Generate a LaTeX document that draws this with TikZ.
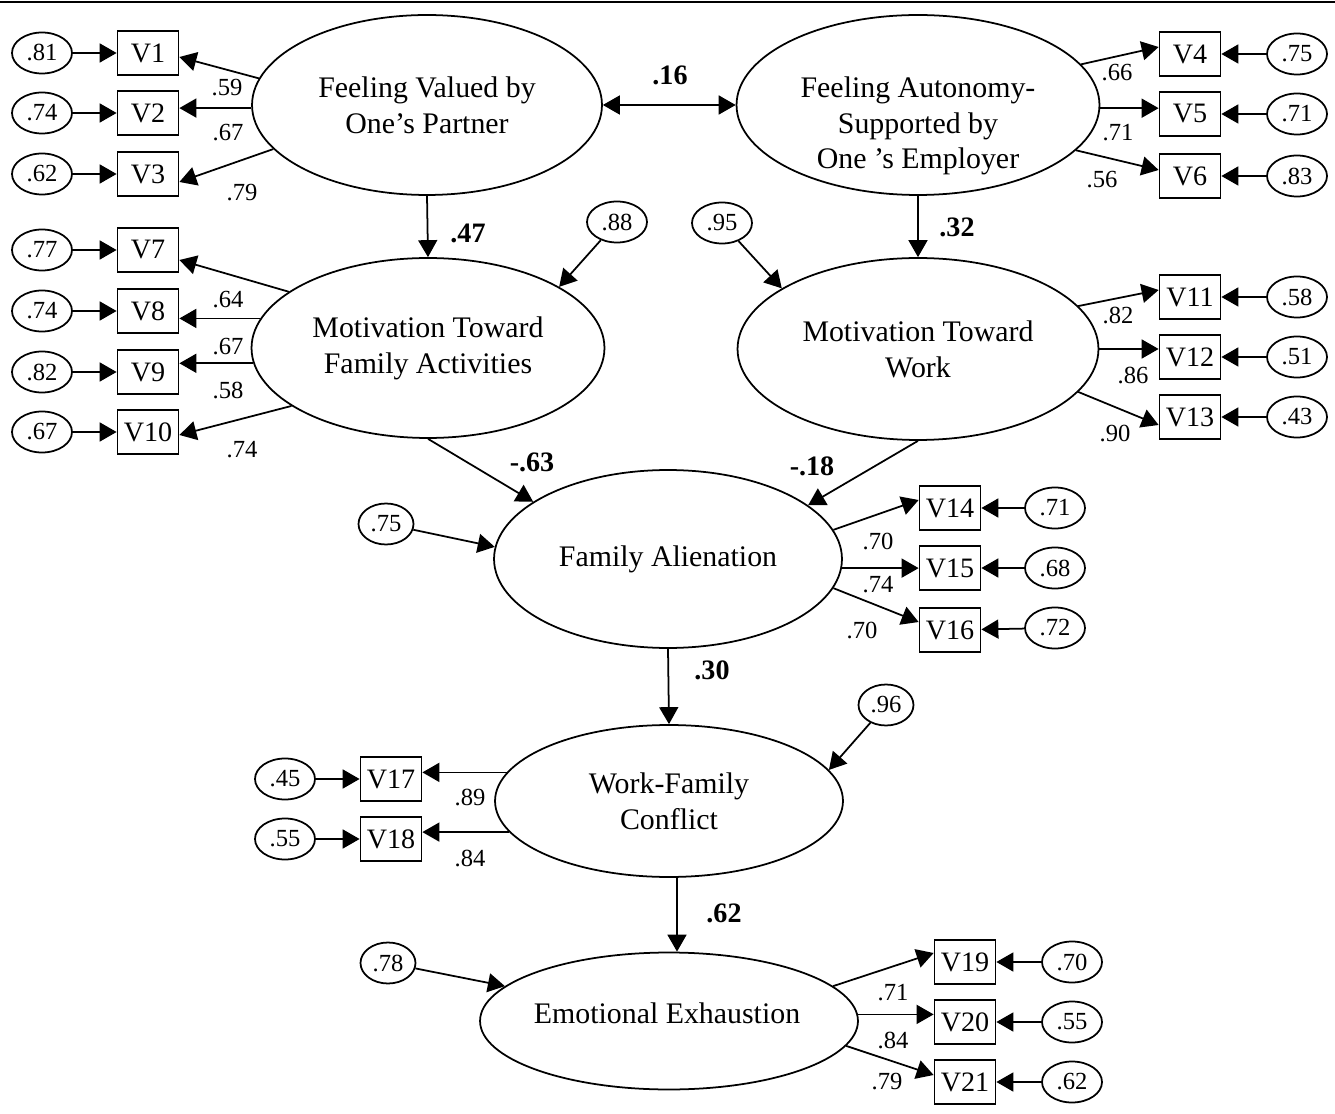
\documentclass[tikz,border=0pt]{standalone}
\usepackage{fontspec}
\setmainfont{Liberation Serif}
\usepackage{tikz}
\usetikzlibrary{arrows.meta}
\usetikzlibrary{shapes.geometric}

\begin{document}
\begin{tikzpicture}[>={Triangle[length=0.34cm,width=0.38cm]}, x=0.02cm, y=-0.02cm, line width=1pt]
	\tikzset{latent/.style={draw, ellipse, inner sep=0pt, align=center, font=\fontsize{17}{20.4}\selectfont}}
	\tikzset{obs/.style={draw, rectangle, inner sep=0pt, minimum width=1.22cm, minimum height=0.88cm, font=\fontsize{16}{19}\selectfont}}
	\tikzset{err/.style={draw, ellipse, inner sep=0pt, minimum width=1.2cm, minimum height=0.82cm, font=\fontsize{14}{16}\selectfont}}
	\tikzset{lab/.style={inner sep=0pt, font=\fontsize{14}{16}\selectfont}}
	\tikzset{coef/.style={inner sep=0pt, font=\bfseries\fontsize{16}{18}\selectfont}}
	\useasboundingbox (0,0) rectangle (1335,1114);
	\draw[line width=1.6pt] (0,2) -- (1335,2);
	\node (fvp) at (427,105)[latent, minimum width=7cm, minimum height=3.6cm] {Feeling Valued by\\One’s Partner};
	\node (fas) at (918,105)[latent, minimum width=7.26cm, minimum height=3.6cm] {};
	\node (fastext) at (918,126)[align=center, font=\fontsize{17}{20.4}\selectfont] {Feeling Autonomy-\\Supported by\\One ’s Employer};
	\node (mfa) at (428,348)[latent, minimum width=7.06cm, minimum height=3.6cm] {Motivation Toward\\Family Activities};
	\node (mw) at (918,349)[latent, minimum width=7.22cm, minimum height=3.64cm] {Motivation Toward\\Work};
	\node (fa) at (668,559)[latent, minimum width=6.96cm, minimum height=3.56cm] {Family Alienation};
	\node (wfc) at (669,801)[latent, minimum width=6.96cm, minimum height=3.04cm] {Work-Family\\Conflict};
	\node (ee) at (669,1021)[latent, minimum width=7.56cm, minimum height=2.74cm] {};
	\node (eetext) at (667,1013)[font=\fontsize{17}{20.4}\selectfont] {Emotional Exhaustion};
	\node (V1) at (148,53)[obs] {V1};
	\node (V2) at (148,113)[obs] {V2};
	\node (V3) at (148,174)[obs] {V3};
	\node (V4) at (1190,54)[obs] {V4};
	\node (V5) at (1190,114)[obs] {V5};
	\node (V6) at (1190,176)[obs] {V6};
	\node (V7) at (148,250)[obs] {V7};
	\node (V8) at (148,311)[obs] {V8};
	\node (V9) at (148,372)[obs] {V9};
	\node (V10) at (148,432)[obs] {V10};
	\node (V11) at (1190,297)[obs] {V11};
	\node (V12) at (1190,357)[obs] {V12};
	\node (V13) at (1190,417)[obs] {V13};
	\node (V14) at (950,508)[obs] {V14};
	\node (V15) at (950,568)[obs] {V15};
	\node (V16) at (950,630)[obs] {V16};
	\node (V17) at (391,779)[obs] {V17};
	\node (V18) at (391,839)[obs] {V18};
	\node (V19) at (965,962)[obs] {V19};
	\node (V20) at (965,1022)[obs] {V20};
	\node (V21) at (965,1082)[obs] {V21};
	\node (e1) at (42,53)[err] {.81};
	\node (e2) at (42,113)[err] {.74};
	\node (e3) at (42,174)[err] {.62};
	\node (e4) at (1297,54)[err] {.75};
	\node (e5) at (1297,114)[err] {.71};
	\node (e6) at (1297,176)[err] {.83};
	\node (e7) at (42,250)[err] {.77};
	\node (e8) at (42,311)[err] {.74};
	\node (e9) at (42,372)[err] {.82};
	\node (e10) at (42,432)[err] {.67};
	\node (e11) at (1297,297)[err] {.58};
	\node (e12) at (1297,357)[err] {.51};
	\node (e13) at (1297,417)[err] {.43};
	\node (e14) at (1055,508)[err] {.71};
	\node (e15) at (1055,568)[err] {.68};
	\node (e16) at (1055,628)[err] {.72};
	\node (e17) at (285,779)[err] {.45};
	\node (e18) at (285,839)[err] {.55};
	\node (e19) at (1072,962)[err] {.70};
	\node (e20) at (1072,1022)[err] {.55};
	\node (e21) at (1072,1082)[err] {.62};
	\node (d1) at (617,222)[err] {.88};
	\node (d2) at (722,223)[err] {.95};
	\node (d3) at (386,524)[err, minimum width=1.1cm] {.75};
	\node (d4) at (886,705)[err, minimum width=1.1cm] {.96};
	\node (d5) at (388,963)[err, minimum width=1.1cm] {.78};
	\draw[->] (e1) -- (V1);
	\draw[->] (e2) -- (V2);
	\draw[->] (e3) -- (V3);
	\draw[->] (e4) -- (V4);
	\draw[->] (e5) -- (V5);
	\draw[->] (e6) -- (V6);
	\draw[->] (e7) -- (V7);
	\draw[->] (e8) -- (V8);
	\draw[->] (e9) -- (V9);
	\draw[->] (e10) -- (V10);
	\draw[->] (e11) -- (V11);
	\draw[->] (e12) -- (V12);
	\draw[->] (e13) -- (V13);
	\draw[->] (e14) -- (V14);
	\draw[->] (e15) -- (V15);
	\draw[->] (e16) -- (V16);
	\draw[->] (e17) -- (V17);
	\draw[->] (e18) -- (V18);
	\draw[->] (e19) -- (V19);
	\draw[->] (e20) -- (V20);
	\draw[->] (e21) -- (V21);
	\draw[->] (fvp.171) -- ([yshift=-0.08cm]V1.east);
	\draw[->] (fvp.181) -- (fvp.181 -| V2.east);
	\draw[->] (fvp.196) -- ([yshift=-0.16cm]V3.east);
	\draw[->] (fas.14) -- ([yshift=0.14cm]V4.west);
	\draw[->] (fas.-1) -- (fas.-1 -| V5.west);
	\draw[->] (fas.-16) -- ([yshift=0.12cm]V6.west);
	\draw[->] (mfa.158) -- ([yshift=-0.2cm]V7.east);
	\draw[->] (mfa.170) -- (mfa.170 -| V8.east);
	\draw[->] (mfa.185) -- (mfa.185 -| V9.east);
	\draw[->] (mfa.203) -- ([yshift=-0.06cm]V10.east);
	\draw[->] (mw.15) -- ([yshift=0.14cm]V11.west);
	\draw[->] (mw.0) -- (mw.0 -| V12.west);
	\draw[->] (mw.-15) -- ([yshift=-0.16cm]V13.west);
	\draw[->] (fa.10) -- ([yshift=0.16cm]V14.west);
	\draw[->] (fa.-3) -- (fa.-3 -| V15.west);
	\draw[->] (fa.-10) -- ([yshift=0.16cm]V16.west);
	\draw[->] (wfc.170) -- (wfc.170 -| V17.east);
	\draw[->] (wfc.191) -- (wfc.191 -| V18.east);
	\draw[->] (ee.12) -- ([yshift=0.18cm]V19.west);
	\draw[->] (ee.2) -- (ee.2 -| V20.west);
	\draw[->] (ee.-8) -- ([yshift=0.14cm]V21.west);
	\draw[<->] (fvp.east) -- (fas.west);
	\draw[->] (fvp.south) -- (mfa.north);
	\draw[->] (fas.south) -- (mw.north);
	\draw[->] (mfa.south) -- (fa.157);
	\draw[->] (mw.south) -- (fa.21);
	\draw[->] (fa.south) -- (wfc.north);
	\draw[->] ([xshift=0.16cm]wfc.south) -- ([xshift=0.16cm]ee.north);
	\draw[->] (d1) -- (mfa.25);
	\draw[->] (d2) -- (mw.156);
	\draw[->] (d3) -- (fa.176);
	\draw[->] (d4) -- (wfc.11);
	\draw[->] (d5) -- (ee.168);
	\node (c1) at (670,75)[coef] {.16};
	\node (c2) at (468,233)[coef] {.47};
	\node (c3) at (957,227)[coef] {.32};
	\node (c4) at (532,462)[coef] {-.63};
	\node (c5) at (812,466)[coef] {-.18};
	\node (c6) at (712,670)[coef] {.30};
	\node (c7) at (724,913)[coef] {.62};
	\node (l1) at (227,88)[lab] {.59};
	\node (l2) at (228,133)[lab] {.67};
	\node (l3) at (242,193)[lab] {.79};
	\node (l4) at (1117,73)[lab] {.66};
	\node (l5) at (1118,133)[lab] {.71};
	\node (l6) at (1102,180)[lab] {.56};
	\node (l7) at (228,300)[lab] {.64};
	\node (l8) at (228,347)[lab] {.67};
	\node (l9) at (228,390)[lab] {.58};
	\node (l10) at (242,450)[lab] {.74};
	\node (l11) at (1118,315)[lab] {.82};
	\node (l12) at (1133,375)[lab] {.86};
	\node (l13) at (1115,433)[lab] {.90};
	\node (l14) at (878,541)[lab] {.70};
	\node (l15) at (878,585)[lab] {.74};
	\node (l16) at (862,630)[lab] {.70};
	\node (l17) at (470,797)[lab] {.89};
	\node (l18) at (470,858)[lab] {.84};
	\node (l19) at (893,993)[lab] {.71};
	\node (l20) at (893,1040)[lab] {.84};
	\node (l21) at (887,1082)[lab] {.79};
\end{tikzpicture}
\end{document}
